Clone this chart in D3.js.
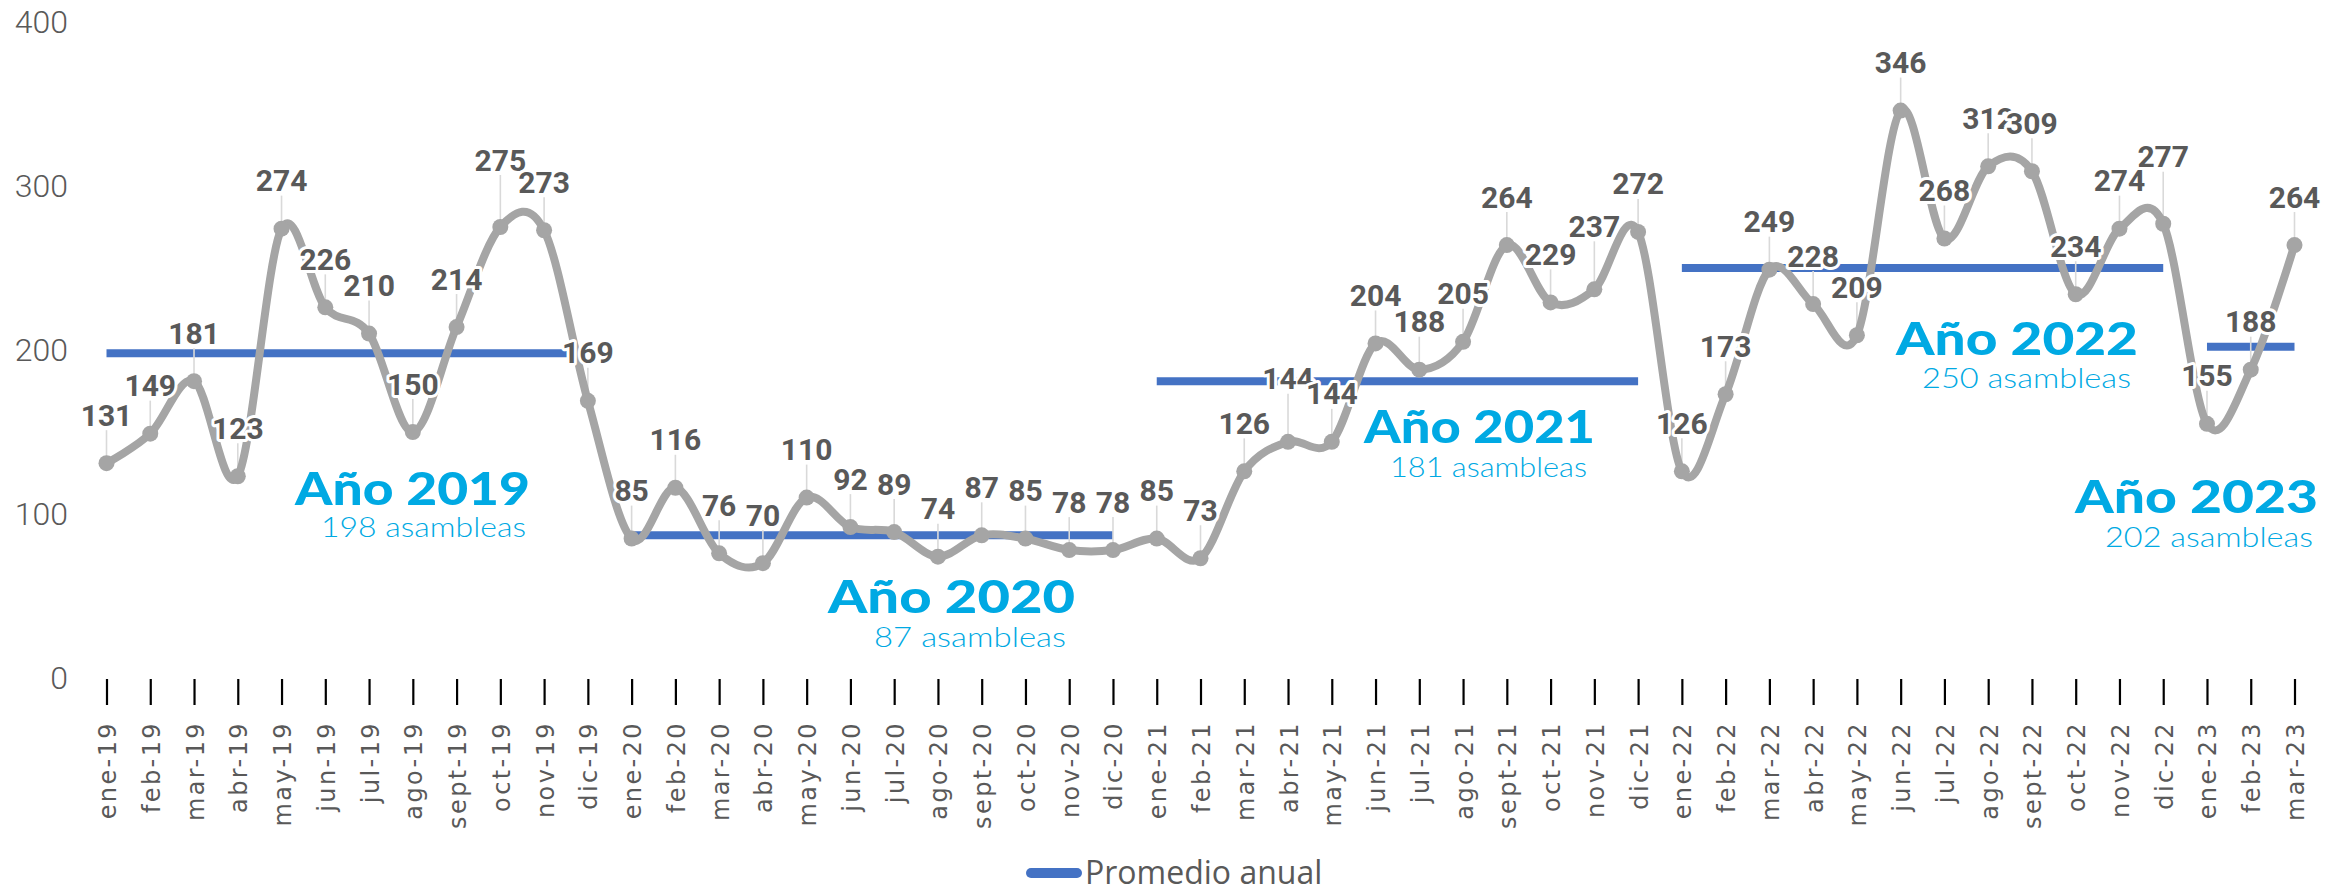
<!DOCTYPE html>
<html>
<head>
<meta charset="utf-8">
<script src="https://cdn.jsdelivr.net/npm/d3@7"></script>
<style>
  html, body { margin: 0; padding: 0; background: #ffffff; }
  svg { display: block; }
</style>
</head>
<body>
<svg id="chart" width="2351" height="888"></svg>
<script>
// ---------------- DATA ----------------
const months = [
  "ene-19","feb-19","mar-19","abr-19","may-19","jun-19","jul-19","ago-19","sept-19","oct-19","nov-19","dic-19",
  "ene-20","feb-20","mar-20","abr-20","may-20","jun-20","jul-20","ago-20","sept-20","oct-20","nov-20","dic-20",
  "ene-21","feb-21","mar-21","abr-21","may-21","jun-21","jul-21","ago-21","sept-21","oct-21","nov-21","dic-21",
  "ene-22","feb-22","mar-22","abr-22","may-22","jun-22","jul-22","ago-22","sept-22","oct-22","nov-22","dic-22",
  "ene-23","feb-23","mar-23"
];
const asambleas = [
  131,149,181,123,274,226,210,150,214,275,273,169,
  85,116,76,70,110,92,89,74,87,85,78,78,
  85,73,126,144,144,204,188,205,264,229,237,272,
  126,173,249,228,209,346,268,312,309,234,274,277,
  155,188,264
];
const years = ["2019","2020","2021","2022","2023"];
const promedioAnual = [198, 87, 181, 250, 202];
const yTicks = [0, 100, 200, 300, 400];
const legendLabel = "Promedio anual";

// ---------------- LAYOUT (not data) ----------------
// label vertical offsets (label centre above point), default -48
const labelRaise = {9: -67, 27: -63, 34: -63, 47: -67};
// annotation placement per year (pixels)
const annotLayout = [
  {tx: 295,  tw: 235, tb: 505, sx: 321,  sw: 205, sb: 537},
  {tx: 828,  tw: 247, tb: 613, sx: 874,  sw: 192, sb: 647},
  {tx: 1364, tw: 231, tb: 443, sx: 1390, sw: 197, sb: 477},
  {tx: 1896, tw: 242, tb: 355, sx: 1922, sw: 209, sb: 388},
  {tx: 2075, tw: 243, tb: 513, sx: 2105, sw: 208, sb: 547}
];

const GRAY = "#A5A5A5", TXT = "#595959", BLUE = "#4472C4", CYAN = "#00A9E3";

const svg = d3.select("#chart");

const x = d3.scalePoint().domain(months).range([106.5, 2294.5]);
const y = d3.scaleLinear().domain([0, 400]).range([678, 22]);

// ---------- Y axis ----------
const yAxis = svg.append("g")
  .attr("transform", "translate(68,0)")
  .call(d3.axisLeft(y).tickValues(yTicks).tickSize(0).tickPadding(0));
yAxis.select(".domain").remove();
yAxis.selectAll("text")
  .attr("fill", TXT)
  .attr("font-family", "Roboto, 'Open Sans', sans-serif")
  .attr("font-weight", 300)
  .attr("font-size", 32)
  .attr("dy", "0.34em");

// ---------- X axis ----------
const xAxis = svg.append("g")
  .attr("transform", "translate(0,679)")
  .call(d3.axisBottom(x).tickSize(26).tickPadding(0));
xAxis.select(".domain").remove();
xAxis.selectAll(".tick line").attr("stroke", "#000").attr("stroke-width", 2.2);
xAxis.selectAll("text")
  .attr("fill", TXT)
  .attr("font-family", "'DejaVu Sans', Verdana, sans-serif")
  .attr("font-size", 24)
  .attr("letter-spacing", "2.4px")
  .attr("text-anchor", "end")
  .attr("transform", "rotate(-90)")
  .attr("x", -42)
  .attr("y", 9)
  .attr("dy", 0);

// ---------- Annual average lines ----------
const avgData = years.map((yr, k) => {
  const ms = months.filter(m => m.endsWith("-" + yr.slice(2)));
  return {year: yr, value: promedioAnual[k], first: ms[0], last: ms[ms.length - 1]};
});
svg.append("g").selectAll("line").data(avgData).join("line")
  .attr("x1", d => x(d.first))
  .attr("x2", d => x(d.last))
  .attr("y1", d => y(d.value))
  .attr("y2", d => y(d.value))
  .attr("stroke", BLUE)
  .attr("stroke-width", 8);

// ---------- Leader lines ----------
const pts = months.map((m, i) => ({m, v: asambleas[i], i}));
const off = i => (labelRaise[i] !== undefined ? labelRaise[i] : -48);
svg.append("g").selectAll("line").data(pts).join("line")
  .attr("x1", d => x(d.m)).attr("x2", d => x(d.m))
  .attr("y1", d => y(d.v) + off(d.i) + 15)
  .attr("y2", d => y(d.v))
  .attr("stroke", "#D9D9D9")
  .attr("stroke-width", 1.6);

// ---------- Main smoothed line ----------
const line = d3.line()
  .x(d => x(d.m))
  .y(d => y(d.v))
  .curve(d3.curveCardinal.tension(0));
svg.append("path")
  .datum(pts)
  .attr("d", line)
  .attr("fill", "none")
  .attr("stroke", GRAY)
  .attr("stroke-width", 8)
  .attr("stroke-linejoin", "round")
  .attr("stroke-linecap", "round");
svg.append("g").selectAll("circle").data(pts).join("circle")
  .attr("cx", d => x(d.m))
  .attr("cy", d => y(d.v))
  .attr("r", 8)
  .attr("fill", GRAY);

// ---------- Data labels ----------
const lbl = svg.append("g")
  .attr("font-family", "Roboto, 'Open Sans', sans-serif")
  .attr("font-weight", 700)
  .attr("font-size", 30)
  .attr("text-anchor", "middle");
pts.forEach(d => {
  lbl.append("text")
    .attr("x", x(d.m))
    .attr("y", y(d.v) + off(d.i) + 10.5)
    .attr("fill", TXT)
    .attr("stroke", "#fff")
    .attr("stroke-width", 6)
    .attr("stroke-linejoin", "round")
    .attr("paint-order", "stroke")
    .text(d.v);
});

// ---------- Year annotations ----------
const ann = svg.append("g");
avgData.forEach((d, k) => {
  const L = annotLayout[k];
  ann.append("text")
    .attr("x", L.tx).attr("y", L.tb)
    .attr("fill", CYAN)
    .attr("font-family", "Lato, 'Open Sans', sans-serif")
    .attr("font-weight", 900)
    .attr("font-size", 46)
    .attr("textLength", L.tw)
    .attr("lengthAdjust", "spacingAndGlyphs")
    .text("Año " + d.year);
  ann.append("text")
    .attr("x", L.sx).attr("y", L.sb)
    .attr("fill", CYAN)
    .attr("font-family", "Lato, 'Open Sans', sans-serif")
    .attr("font-weight", 300)
    .attr("font-size", 28)
    .attr("textLength", L.sw)
    .attr("lengthAdjust", "spacingAndGlyphs")
    .text(d.value + " asambleas");
});

// ---------- Legend ----------
const leg = svg.append("g");
leg.append("line")
  .attr("x1", 1031).attr("x2", 1077)
  .attr("y1", 873).attr("y2", 873)
  .attr("stroke", BLUE).attr("stroke-width", 10).attr("stroke-linecap", "round");
leg.append("text")
  .attr("x", 1085).attr("y", 884)
  .attr("fill", TXT)
  .attr("font-family", "'Open Sans', sans-serif")
  .attr("font-size", 32)
  .text(legendLabel);
</script>
</body>
</html>
